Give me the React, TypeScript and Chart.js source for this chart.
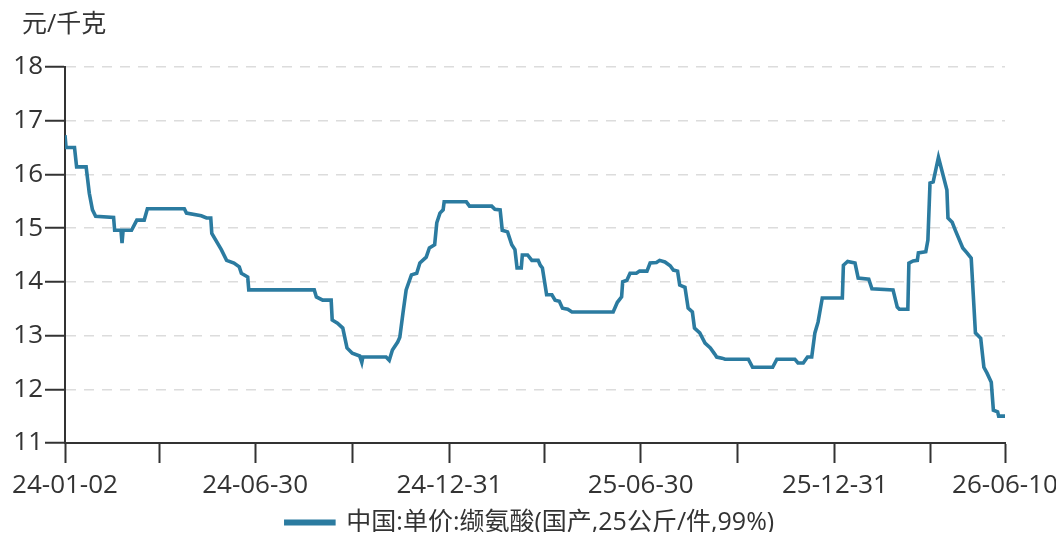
import React, { useEffect, useRef } from 'react';
import { Chart, registerables } from 'chart.js';

Chart.register(...registerables);

const unitText = '元/千克';
const seriesName = '中国:单价:缬氨酸(国产,25公斤/件,99%)';

const dates = [
  '2024-01-02', '2024-01-03', '2024-01-11', '2024-01-13', '2024-01-22', '2024-01-25', '2024-01-28', '2024-01-31',
  '2024-02-17', '2024-02-18', '2024-02-24', '2024-02-25', '2024-02-26', '2024-03-05', '2024-03-10', '2024-03-17',
  '2024-03-20', '2024-04-24', '2024-04-26', '2024-05-10', '2024-05-15', '2024-05-19', '2024-05-20', '2024-05-29',
  '2024-06-03', '2024-06-10', '2024-06-15', '2024-06-17', '2024-06-23', '2024-06-24', '2024-08-25', '2024-08-27',
  '2024-09-02', '2024-09-10', '2024-09-11', '2024-09-16', '2024-09-21', '2024-09-25', '2024-09-30', '2024-10-07',
  '2024-10-09', '2024-10-10', '2024-11-01', '2024-11-04', '2024-11-07', '2024-11-12', '2024-11-14', '2024-11-17',
  '2024-11-20', '2024-11-25', '2024-11-30', '2024-12-03', '2024-12-09', '2024-12-12', '2024-12-17', '2024-12-19',
  '2024-12-22', '2024-12-25', '2024-12-26', '2025-01-16', '2025-01-19', '2025-02-09', '2025-02-12', '2025-02-17',
  '2025-02-19', '2025-02-24', '2025-02-28', '2025-03-03', '2025-03-05', '2025-03-09', '2025-03-10', '2025-03-15',
  '2025-03-19', '2025-03-25', '2025-03-27', '2025-03-29', '2025-04-02', '2025-04-07', '2025-04-10', '2025-04-14',
  '2025-04-17', '2025-04-22', '2025-04-26', '2025-06-04', '2025-06-08', '2025-06-12', '2025-06-13', '2025-06-17',
  '2025-06-20', '2025-06-26', '2025-06-29', '2025-07-06', '2025-07-09', '2025-07-15', '2025-07-18', '2025-07-23',
  '2025-07-28', '2025-07-31', '2025-08-04', '2025-08-06', '2025-08-11', '2025-08-14', '2025-08-18', '2025-08-20',
  '2025-08-25', '2025-08-30', '2025-09-04', '2025-09-08', '2025-09-10', '2025-09-15', '2025-09-18', '2025-10-10',
  '2025-10-14', '2025-11-02', '2025-11-06', '2025-11-23', '2025-11-26', '2025-12-01', '2025-12-05', '2025-12-09',
  '2025-12-12', '2025-12-15', '2025-12-19', '2026-01-07', '2026-01-08', '2026-01-12', '2026-01-19', '2026-01-22',
  '2026-02-01', '2026-02-04', '2026-02-24', '2026-02-28', '2026-03-02', '2026-03-10', '2026-03-11', '2026-03-15',
  '2026-03-19', '2026-03-20', '2026-03-27', '2026-03-29', '2026-03-31', '2026-04-03', '2026-04-08', '2026-04-16',
  '2026-04-17', '2026-04-21', '2026-04-24', '2026-05-01', '2026-05-05', '2026-05-09', '2026-05-13', '2026-05-18',
  '2026-05-21', '2026-05-24', '2026-05-28', '2026-05-30', '2026-06-03', '2026-06-04', '2026-06-10',
];

const prices = [
  16.73, 16.5, 16.5, 16.14, 16.14, 15.65, 15.34, 15.22,
  15.2, 14.96, 14.96, 14.72, 14.96, 14.96, 15.15, 15.15,
  15.36, 15.36, 15.28, 15.23, 15.19, 15.19, 14.9, 14.6,
  14.4, 14.35, 14.28, 14.16, 14.09, 13.85, 13.85, 13.72,
  13.66, 13.66, 13.29, 13.23, 13.14, 12.77, 12.67, 12.62,
  12.5, 12.6, 12.6, 12.54, 12.73, 12.88, 12.97, 13.42,
  13.85, 14.13, 14.16, 14.35, 14.46, 14.63, 14.69, 15.1,
  15.28, 15.34, 15.49, 15.49, 15.41, 15.41, 15.35, 15.34,
  14.96, 14.93, 14.69, 14.6, 14.26, 14.26, 14.5, 14.5,
  14.4, 14.4, 14.31, 14.26, 13.76, 13.76, 13.66, 13.64,
  13.51, 13.49, 13.44, 13.44, 13.62, 13.72, 14.0, 14.03,
  14.16, 14.16, 14.2, 14.2, 14.35, 14.36, 14.4, 14.37,
  14.3, 14.22, 14.2, 13.94, 13.9, 13.51, 13.44, 13.14,
  13.05, 12.86, 12.77, 12.66, 12.6, 12.58, 12.56, 12.56,
  12.41, 12.41, 12.56, 12.56, 12.49, 12.49, 12.6, 12.6,
  13.05, 13.25, 13.7, 13.7, 14.31, 14.38, 14.35, 14.07,
  14.05, 13.87, 13.85, 13.53, 13.49, 13.49, 14.35, 14.39,
  14.4, 14.54, 14.56, 14.78, 15.84, 15.86, 16.32, 15.71,
  15.19, 15.11, 14.96, 14.63, 14.54, 14.44, 13.05, 12.95,
  12.41, 12.3, 12.13, 11.61, 11.58, 11.5, 11.5,
];

const xTickDates = [
  '2024-01-02', '2024-03-31', '2024-06-30', '2024-09-30', '2024-12-31', '2025-03-31',
  '2025-06-30', '2025-09-30', '2025-12-31', '2026-03-31', '2026-06-10',
];
const xTickLabels = ['24-01-02', '', '24-06-30', '', '24-12-31', '', '25-06-30', '', '25-12-31', '', '26-06-10'];

const yMin = 11;
const yMax = 18;
const yStep = 1;

const FONT = '"Open Sans", "Noto Sans CJK SC", sans-serif';
const TEXT = '#333333';
const LINE = '#2b7ba0';

const startUTC = Date.UTC(2024, 0, 2);
function dayIndex(d: string): number {
  const [y, m, dd] = d.split('-').map(Number);
  return Math.round((Date.UTC(y, m - 1, dd) - startUTC) / 86400000);
}

const unitPlugin = {
  id: 'unitLabel',
  afterDraw(chart: any) {
    const ctx = chart.ctx;
    ctx.save();
    ctx.font = `25px ${FONT}`;
    ctx.fillStyle = TEXT;
    ctx.textAlign = 'left';
    ctx.textBaseline = 'middle';
    ctx.fillText(unitText, 14, 17);
    ctx.restore();
  },
};

export default function App() {
  const ref = useRef<HTMLCanvasElement | null>(null);

  useEffect(() => {
    if (!ref.current) return;
    const tickVals = xTickDates.map(dayIndex);
    const labelMap: Record<number, string> = {};
    tickVals.forEach((v, i) => (labelMap[v] = xTickLabels[i]));
    const points = dates.map((d, i) => ({ x: dayIndex(d), y: prices[i] }));

    const chart = new Chart(ref.current, {
      type: 'line',
      data: {
        datasets: [
          {
            label: seriesName,
            data: points,
            borderColor: LINE,
            backgroundColor: LINE,
            borderWidth: 3.6,
            pointRadius: 0,
            tension: 0,
            fill: false,
          },
        ],
      },
      plugins: [unitPlugin],
      options: {
        animation: false,
        responsive: false,
        maintainAspectRatio: false,
        layout: { padding: { top: 59, left: 6, right: 18, bottom: 0 } },
        scales: {
          x: {
            type: 'linear',
            min: tickVals[0],
            max: tickVals[tickVals.length - 1],
            afterBuildTicks: (scale: any) => {
              scale.ticks = tickVals.map((v) => ({ value: v }));
            },
            afterFit: (scale: any) => {
              scale.height = 58;
              scale.paddingLeft = 40;
              scale.paddingRight = 59;
            },
            grid: {
              drawOnChartArea: false,
              drawTicks: true,
              tickLength: 20,
              tickColor: TEXT,
              tickWidth: 2,
            },
            border: { display: true, color: TEXT, width: 2 },
            ticks: {
              autoSkip: false,
              maxRotation: 0,
              padding: 7,
              color: TEXT,
              font: { family: FONT, size: 26 },
              callback: (value: any) => labelMap[value as number] ?? '',
            },
          },
          y: {
            min: yMin,
            max: yMax,
            afterFit: (scale: any) => {
              scale.width = 51;
            },
            grid: {
              color: '#dcdcdc',
              lineWidth: 1.5,
              tickLength: 20,
              tickColor: TEXT,
              tickWidth: 2,
            },
            border: { display: true, color: TEXT, width: 2, dash: [10, 8] },
            ticks: {
              stepSize: yStep,
              padding: 2,
              color: TEXT,
              font: { family: FONT, size: 26 },
            },
          },
        },
        plugins: {
          legend: {
            position: 'bottom',
            labels: {
              boxWidth: 48,
              boxHeight: 2.5,
              color: TEXT,
              padding: 9,
              font: { family: FONT, size: 25 },
            },
          },
          tooltip: { enabled: false },
          title: { display: false },
        },
      },
    });
    return () => chart.destroy();
  }, []);

  return (
    <div style={{ width: 1056, height: 532, overflow: 'hidden', marginBottom: -8 }}>
      <canvas ref={ref} width={1056} height={537} style={{ width: 1056, height: 537, display: 'block' }} />
    </div>
  );
}
